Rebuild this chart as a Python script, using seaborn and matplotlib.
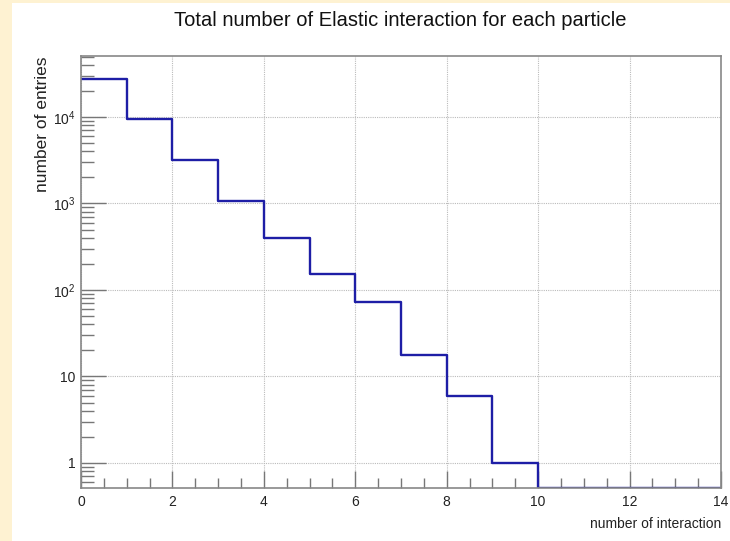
import numpy as np
import pandas as pd
import matplotlib
matplotlib.use("Agg")
import matplotlib.pyplot as plt
from matplotlib.ticker import FixedLocator, LogLocator, NullFormatter, MultipleLocator
import seaborn as sns

# ---- data ----
bin_edges = list(range(0, 15))
bin_centers = [0.5 + i for i in range(14)]
counts = [27500, 9500, 3180, 1080, 394, 153, 73, 17.5, 6, 1, 0, 0, 0, 0]
x_ticks = [0, 2, 4, 6, 8, 10, 12, 14]
y_ticks = [1, 10, 100, 1000, 10000]
y_tick_labels = ["1", "10", r"$10^{2}$", r"$10^{3}$", r"$10^{4}$"]
title = "Total number of Elastic interaction for each particle"
xlabel = "number of interaction"
ylabel = "number of entries"

sns.set_theme(style="white")
plt.rcParams["font.family"] = ["Liberation Sans", "DejaVu Sans"]
plt.rcParams["mathtext.fontset"] = "custom"
plt.rcParams["mathtext.rm"] = "Liberation Sans"
plt.rcParams["mathtext.it"] = "Liberation Sans"

ymin, ymax = 0.514, 50700
df = pd.DataFrame({"x": bin_centers, "w": np.maximum(counts, ymin)})

fig = plt.figure(figsize=(7.3, 5.41), dpi=100)
fig.patch.set_facecolor("#FEF2D2")
fig.add_artist(plt.Rectangle((12 / 730, 0), 1, 538 / 541, transform=fig.transFigure,
                             facecolor="white", edgecolor="none", zorder=-10))
ax = fig.add_axes([81 / 730, 53 / 541, 640 / 730, 432 / 541])
ax.set_facecolor("white")

sns.histplot(data=df, x="x", weights="w", bins=bin_edges, element="step", fill=False,
             color="#1E1EA6", linewidth=1.7, ax=ax)

ax.set_yscale("log")
ax.set_xlim(0, 14)
ax.set_ylim(ymin, ymax)

ax.xaxis.set_major_locator(FixedLocator(x_ticks))
ax.xaxis.set_minor_locator(MultipleLocator(0.5))
ax.set_xticklabels([str(t) for t in x_ticks])
ax.yaxis.set_major_locator(FixedLocator(y_ticks))
ax.set_yticklabels(y_tick_labels)
ax.yaxis.set_minor_locator(LogLocator(base=10, subs=np.arange(2, 10)))
ax.yaxis.set_minor_formatter(NullFormatter())

ax.tick_params(bottom=True, left=True, top=False, right=False, which="both")
ax.tick_params(axis="both", which="major", direction="in", width=1,
               color="#777777", labelsize=10, labelcolor="#222222")
ax.tick_params(axis="x", which="major", length=12, pad=5)
ax.tick_params(axis="y", which="major", length=18, pad=4)
ax.tick_params(axis="x", which="minor", direction="in", length=7, width=1, color="#777777")
ax.tick_params(axis="y", which="minor", direction="in", length=9, width=1, color="#777777")

ax.grid(True, which="major", color="#BBBBBB", linestyle=(0, (1, 1)), linewidth=0.8)
for s in ax.spines.values():
    s.set_color("#888888")
    s.set_linewidth(1.2)

ax.set_xlabel(xlabel, fontsize=10, color="#222222", ha="right", x=1.0, labelpad=6)
ax.set_ylabel(ylabel, fontsize=12.5, color="#222222", ha="right", y=1.0, labelpad=2)
fig.text(400 / 730, 1 - 20 / 541, title, ha="center", va="center", fontsize=14.5, color="#111111")

fig.savefig("out.png", dpi=100, facecolor=fig.get_facecolor())
